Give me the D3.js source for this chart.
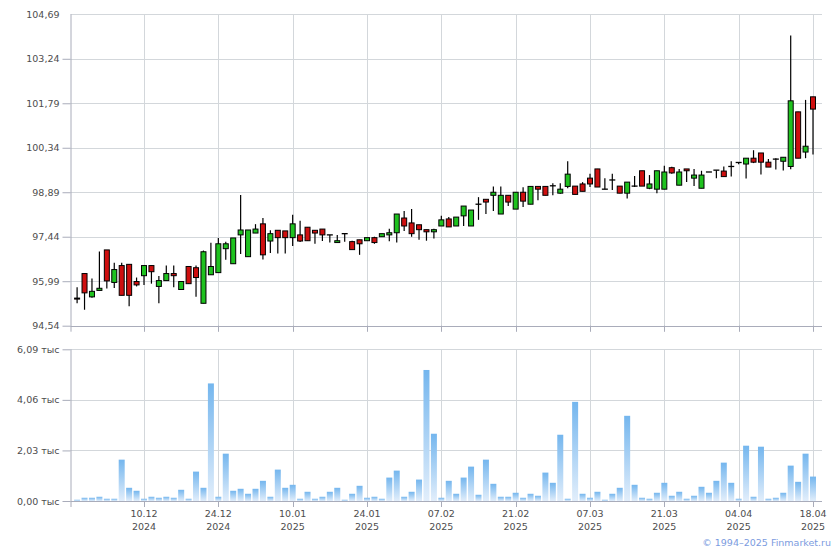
<!DOCTYPE html>
<html><head><meta charset="utf-8">
<script src="https://cdn.jsdelivr.net/npm/d3@7"></script>
<style>body{margin:0;background:#fff;}svg{display:block;font-family:"DejaVu Sans",Verdana,sans-serif;}</style>
</head><body><svg id="c" width="840" height="550"></svg>
<script>
const openP  = [95.44,96.24,95.48,95.69,97.01,95.95,96.50,96.54,95.98,96.17,96.50,95.82,96.01,96.24,95.72,96.47,96.43,95.27,96.20,96.27,97.05,96.56,97.50,96.79,97.56,97.86,97.30,97.65,97.63,97.41,97.50,97.75,97.65,97.69,97.50,97.25,97.54,97.28,97.34,97.31,97.41,97.44,97.50,97.57,98.05,97.89,97.83,97.67,97.60,97.79,98.02,97.79,98.12,97.79,98.50,98.66,98.79,98.18,98.79,98.34,98.89,98.50,99.08,99.08,99.10,98.86,99.08,99.09,99.16,99.35,99.65,98.99,99.29,99.09,98.86,99.09,99.59,99.02,98.99,98.99,99.69,99.12,99.65,99.35,99.02,99.55,99.61,99.58,99.73,99.86,99.81,100.00,100.17,99.87,99.97,99.90,99.73,101.51,100.20,102.00];
const highP  = [95.79,96.24,96.08,96.96,97.01,96.59,96.59,96.54,96.11,96.50,96.50,96.16,96.50,96.50,95.98,96.47,96.50,96.99,97.24,97.40,97.28,97.40,98.80,97.66,97.85,98.05,97.65,97.65,97.63,98.16,97.96,97.75,97.65,97.69,97.50,97.50,97.54,97.31,97.34,97.41,97.44,97.54,97.70,98.18,98.28,98.34,97.83,97.67,97.70,98.12,98.08,98.08,98.44,98.31,98.73,98.66,99.08,99.08,98.79,98.89,99.05,99.08,99.08,99.08,99.18,99.18,99.90,99.09,99.22,99.49,99.65,99.35,99.49,99.09,99.22,99.42,99.59,99.45,99.59,99.75,99.72,99.65,99.65,99.65,99.59,99.55,99.61,99.73,99.90,99.86,100.00,100.26,100.17,99.97,100.00,100.03,104.00,101.51,101.90,102.00];
const lowP   = [95.27,95.06,95.45,95.69,95.75,95.77,95.53,95.17,95.82,95.87,95.91,95.27,96.01,95.79,95.72,95.91,95.48,95.27,96.20,96.27,96.69,96.56,96.88,96.79,97.56,96.70,96.91,96.89,96.89,97.14,97.27,97.31,97.21,97.30,97.25,97.25,97.28,97.02,96.85,97.31,97.21,97.44,97.29,97.25,97.63,97.44,97.34,97.31,97.38,97.79,97.76,97.79,97.79,97.79,97.99,98.18,98.28,98.18,98.44,98.34,98.41,98.50,98.63,98.79,98.79,98.84,99.02,98.82,98.92,99.06,99.06,98.99,98.96,98.86,98.69,99.06,99.09,98.99,98.86,98.99,99.49,99.12,99.22,99.09,99.02,99.55,99.35,99.40,99.40,99.80,99.34,99.84,99.47,99.71,99.63,99.60,99.64,100.00,100.00,100.12];
const closeP = [95.43,95.61,95.66,95.76,96.00,96.37,95.53,95.53,95.87,96.50,96.30,96.01,96.24,96.17,95.98,95.91,96.11,96.95,96.47,97.21,97.21,97.40,97.66,97.66,97.69,96.85,97.54,97.41,97.41,97.86,97.30,97.31,97.56,97.50,97.50,97.31,97.54,97.02,97.21,97.41,97.25,97.54,97.57,98.18,97.79,97.54,97.67,97.60,97.67,97.99,97.76,98.08,98.44,98.31,98.50,98.57,98.89,98.79,98.57,98.89,98.60,99.08,98.99,98.79,99.10,98.99,99.48,98.82,98.92,99.16,99.06,98.99,99.29,98.86,99.22,99.09,99.09,99.16,99.59,99.55,99.52,99.55,99.59,99.45,99.45,99.55,99.61,99.40,99.73,99.86,100.00,99.87,99.87,99.71,99.97,100.03,101.87,100.00,100.39,101.60];
// volume, thousands
const volumeK = [0.05,0.13,0.13,0.17,0.09,0.09,1.66,0.53,0.41,0.09,0.17,0.13,0.17,0.13,0.45,0.09,1.18,0.53,4.72,0.17,1.90,0.41,0.49,0.29,0.49,0.81,0.17,1.26,0.53,0.65,0.09,0.37,0.09,0.17,0.37,0.53,0.05,0.29,0.61,0.13,0.17,0.09,0.94,1.22,0.17,0.37,0.86,5.26,2.70,0.13,0.81,0.29,0.94,1.38,0.25,1.66,0.69,0.17,0.17,0.33,0.13,0.29,0.21,1.14,0.73,2.66,0.09,3.98,0.29,0.13,0.37,0.05,0.29,0.53,3.42,0.65,0.13,0.09,0.33,0.73,0.21,0.37,0.09,0.21,0.57,0.33,0.81,1.54,0.73,0.09,2.22,0.17,2.18,0.09,0.13,0.33,1.42,0.77,1.90,0.98];
const priceTicks = [104.69,103.24,101.79,100.34,98.89,97.44,95.99,94.54];
const volumeTicks = [0,2.03,4.06,6.09];
const dateTickIndex = [9,19,29,39,49,59,69,79,89,99];
const dateTickDay = ["10.12","24.12","10.01","24.01","07.02","21.02","07.03","21.03","04.04","18.04"];
const dateTickYear = ["2024","2024","2025","2025","2025","2025","2025","2025","2025","2025"];

const svg = d3.select("#c");
const L = 70.5, R = 822;
const x = d3.scaleLinear().domain([0, 99]).range([77.1, 813.0]);
const yP = d3.scaleLinear().domain([94.54, 104.69]).range([325.7, 14.3]);
const yV = d3.scaleLinear().domain([0, 6.09]).range([501, 349.3]);
const GRID = "#d3d7db", AXIS = "#a9acba", TXT = "#4d4d4d";
const fmt = v => v.toFixed(2).replace(".", ",");

const defs = svg.append("defs");
const gr = defs.append("linearGradient").attr("id","vg").attr("x1",0).attr("y1",0).attr("x2",0).attr("y2",1);
gr.append("stop").attr("offset","0%").attr("stop-color","#74b6ee");
gr.append("stop").attr("offset","100%").attr("stop-color","#e2eefb");

// grids
const g = svg.append("g");
g.selectAll(".hp").data(priceTicks).join("line")
  .attr("x1", L).attr("x2", R).attr("y1", d => Math.round(yP(d))+0.5).attr("y2", d => Math.round(yP(d))+0.5)
  .attr("stroke", (d,i) => i === priceTicks.length-1 ? AXIS : GRID);
g.selectAll(".hv").data(volumeTicks).join("line")
  .attr("x1", L).attr("x2", R).attr("y1", d => Math.round(yV(d))+0.5).attr("y2", d => Math.round(yV(d))+0.5)
  .attr("stroke", (d,i) => i === 0 ? AXIS : GRID);
g.selectAll(".vp").data(dateTickIndex).join("line")
  .attr("x1", d => Math.round(x(d))+0.5).attr("x2", d => Math.round(x(d))+0.5)
  .attr("y1", yP(104.69)).attr("y2", yP(94.54)+6).attr("stroke", GRID);
g.selectAll(".vpt").data(dateTickIndex).join("line")
  .attr("x1", d => Math.round(x(d))+0.5).attr("x2", d => Math.round(x(d))+0.5)
  .attr("y1", yP(94.54)).attr("y2", yP(94.54)+6).attr("stroke", AXIS);
g.selectAll(".vv").data(dateTickIndex).join("line")
  .attr("x1", d => Math.round(x(d))+0.5).attr("x2", d => Math.round(x(d))+0.5)
  .attr("y1", yV(6.09)).attr("y2", yV(0)).attr("stroke", GRID);
g.selectAll(".vvt").data(dateTickIndex).join("line")
  .attr("x1", d => Math.round(x(d))+0.5).attr("x2", d => Math.round(x(d))+0.5)
  .attr("y1", yV(0)).attr("y2", yV(0)+6).attr("stroke", AXIS);

// left axes
const axP = d3.axisLeft(yP).tickValues(priceTicks).tickFormat(fmt).tickSizeInner(8).tickSizeOuter(0).tickPadding(3);
const gp = svg.append("g").attr("transform", `translate(${L},0)`).call(axP);
gp.select(".domain").attr("stroke", AXIS).attr("d", `M0.5,${yP(104.69)}V${yP(94.54)+6}`);
gp.selectAll(".tick line").attr("stroke", AXIS).filter(d => d === 104.69).remove();
const axV = d3.axisLeft(yV).tickValues(volumeTicks).tickFormat(d => fmt(d) + " тыс").tickSizeInner(8).tickSizeOuter(0).tickPadding(3);
const gv = svg.append("g").attr("transform", `translate(${L},0)`).call(axV);
gv.select(".domain").attr("stroke", AXIS).attr("d", `M0.5,${yV(6.09)}V${yV(0)+6}`);
gv.selectAll(".tick line").attr("stroke", AXIS);
svg.selectAll(".tick text").attr("fill", TXT).style("font-size","9.5px").style("font-family","'DejaVu Sans',Verdana,sans-serif");

// volume bars
svg.append("g").selectAll("rect").data(volumeK).join("rect")
  .attr("x", (d,i) => x(i) - 3).attr("width", 6)
  .attr("y", d => yV(d)).attr("height", d => yV(0) - yV(d))
  .attr("fill", "url(#vg)");

// candles
const idx = d3.range(openP.length);
const cg = svg.append("g");
cg.selectAll(".wick").data(idx).join("line")
  .attr("x1", i => x(i)).attr("x2", i => x(i))
  .attr("y1", i => yP(highP[i])).attr("y2", i => yP(lowP[i]))
  .attr("stroke", "#000").attr("stroke-width", 1.2);
cg.selectAll(".body").data(idx.filter(i => openP[i] !== closeP[i])).join("rect")
  .attr("x", i => x(i) - 2.5).attr("width", 5)
  .attr("y", i => yP(Math.max(openP[i], closeP[i])))
  .attr("height", i => Math.max(1, Math.abs(yP(openP[i]) - yP(closeP[i]))))
  .attr("fill", i => closeP[i] > openP[i] ? "#1fc21f" : "#cf0f0f")
  .attr("stroke", "#000").attr("stroke-width", 1);
cg.selectAll(".doji").data(idx.filter(i => openP[i] === closeP[i])).join("line")
  .attr("x1", i => x(i) - 3).attr("x2", i => x(i) + 3)
  .attr("y1", i => yP(openP[i])).attr("y2", i => yP(openP[i]))
  .attr("stroke", "#000").attr("stroke-width", 1.3);

// x labels
const xl = svg.append("g").attr("fill", TXT).style("font-size","9.5px").attr("text-anchor","middle");
xl.selectAll(".d").data(dateTickIndex).join("text").attr("x", d => x(d)).attr("y", 517).text((d,i) => dateTickDay[i]);
xl.selectAll(".yr").data(dateTickIndex).join("text").attr("x", d => x(d)).attr("y", 530).text((d,i) => dateTickYear[i]);

svg.append("text").attr("x", 831).attr("y", 546).attr("text-anchor","end")
  .attr("fill", "#7b9be0").style("font-size","9.5px").text("© 1994–2025 Finmarket.ru");
</script></body></html>
